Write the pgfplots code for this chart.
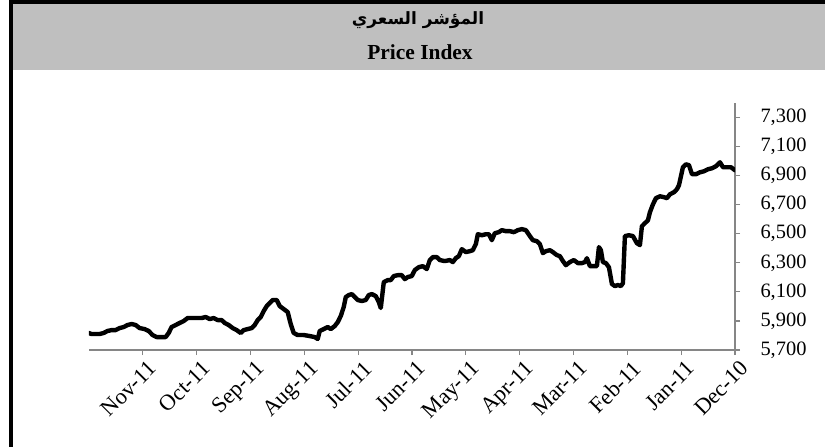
\documentclass[border=0pt]{standalone}
\usepackage{fontspec}
\setmainfont{Liberation Serif}
\newfontfamily\arabicfont[Script=Arabic]{DejaVu Sans}
\TeXXeTstate=1
\usepackage{pgfplots}
\pgfplotsset{compat=1.18}
\usepackage{pgfplotstable}
\definecolor{bandgray}{RGB}{191,191,191}
\definecolor{axgray}{RGB}{134,134,134}
\pgfplotstableread{
m v
12.007 5817
11.952 5810
11.877 5810
11.803 5810
11.729 5817
11.654 5831
11.580 5837
11.506 5837
11.431 5851
11.357 5858
11.283 5872
11.208 5879
11.134 5872
11.059 5851
10.967 5844
10.892 5831
10.818 5803
10.743 5789
10.651 5789
10.576 5789
10.520 5817
10.465 5858
10.390 5872
10.316 5886
10.242 5899
10.167 5920
10.037 5920
9.907 5920
9.833 5927
9.758 5913
9.684 5920
9.610 5906
9.535 5906
9.480 5886
9.405 5872
9.331 5851
9.257 5837
9.182 5817
9.126 5837
9.052 5844
8.978 5851
8.922 5872
8.866 5906
8.810 5927
8.755 5968
8.699 6002
8.643 6023
8.587 6044
8.513 6044
8.457 6002
8.383 5982
8.309 5961
8.253 5879
8.197 5817
8.123 5803
8.011 5803
7.900 5796
7.807 5789
7.751 5776
7.714 5831
7.639 5844
7.565 5858
7.509 5844
7.435 5865
7.379 5892
7.323 5934
7.268 5996
7.230 6064
7.175 6078
7.119 6085
7.063 6064
7.007 6044
6.933 6037
6.859 6044
6.803 6078
6.747 6085
6.673 6071
6.617 6030
6.580 5989
6.524 6167
6.450 6181
6.394 6181
6.338 6209
6.264 6215
6.190 6215
6.134 6188
6.078 6202
6.004 6209
5.948 6250
5.874 6270
5.799 6277
5.725 6257
5.669 6319
5.613 6339
5.539 6339
5.483 6319
5.390 6312
5.297 6319
5.242 6305
5.186 6332
5.130 6346
5.074 6394
5.000 6374
4.926 6380
4.870 6387
4.814 6429
4.777 6497
4.703 6490
4.628 6497
4.572 6497
4.517 6456
4.461 6504
4.387 6511
4.331 6525
4.257 6518
4.182 6518
4.108 6511
4.033 6525
3.959 6532
3.885 6525
3.810 6484
3.755 6456
3.680 6449
3.625 6429
3.569 6367
3.513 6380
3.439 6387
3.383 6374
3.309 6353
3.253 6346
3.197 6312
3.141 6284
3.067 6305
2.993 6319
2.918 6298
2.844 6298
2.788 6305
2.751 6332
2.695 6277
2.621 6277
2.565 6277
2.528 6408
2.491 6387
2.454 6305
2.398 6298
2.342 6270
2.286 6154
2.230 6140
2.175 6147
2.119 6140
2.082 6160
2.045 6484
1.970 6490
1.896 6484
1.822 6435
1.766 6422
1.729 6552
1.673 6573
1.617 6593
1.580 6648
1.524 6703
1.468 6745
1.394 6758
1.320 6752
1.264 6745
1.208 6772
1.134 6786
1.078 6807
1.041 6834
1.004 6896
0.967 6958
0.911 6978
0.855 6972
0.799 6910
0.725 6910
0.651 6923
0.576 6930
0.502 6944
0.428 6951
0.353 6965
0.279 6992
0.223 6958
0.149 6958
0.074 6958
0.000 6937
}\pricedata
\begin{document}
\begin{tikzpicture}
\path[use as bounding box] (0bp,0bp) rectangle (825bp,-447bp);
\fill[bandgray] (12bp,-3.5bp) rectangle (825bp,-70bp);
\draw[line width=3.5bp] (11bp,-447bp) -- (11bp,-1.75bp) -- (825bp,-1.75bp);
\node[font=\fontsize{17}{20}\selectfont\arabicfont\bfseries] at (418bp,-20bp) {\beginR المؤشر السعري\endR};
\node[font=\fontsize{21.5}{25}\selectfont\bfseries] at (420bp,-52bp) {Price Index};
\begin{axis}[
  at={(89bp,-350bp)}, anchor=south west,
  scale only axis, width=646bp, height=247bp,
  x dir=reverse,
  xmin=0, xmax=12, ymin=5700, ymax=7400,
  enlargelimits=false,
  axis x line*=bottom, axis y line*=right,
  axis line style={axgray, line width=1.2bp},
  every tick/.style={axgray, line width=1.2bp},
  major tick length=5bp,
  tick align=outside,
  xtick={0,1,2,3,4,5,6,7,8,9,10,11},
  xticklabels={Dec-10,Jan-11,Feb-11,Mar-11,Apr-11,May-11,Jun-11,Jul-11,Aug-11,Sep-11,Oct-11,Nov-11},
  xticklabel style={rotate=45, anchor=north east, font=\fontsize{22.5}{26}\selectfont, inner sep=1bp, yshift=-5bp, xshift=1bp},
  ytick={5700,5900,6100,6300,6500,6700,6900,7100,7300},
  yticklabel style={font=\fontsize{20.5}{24}\selectfont, anchor=west, xshift=17bp},
  /pgf/number format/assume math mode=true,
  /pgf/number format/1000 sep={,},
  scaled y ticks=false,
  clip=true,
]
\addplot[black, line width=4.4bp, line join=round, line cap=round, mark=none] table[x=m, y=v] {\pricedata};
\end{axis}
\end{tikzpicture}
\end{document}
